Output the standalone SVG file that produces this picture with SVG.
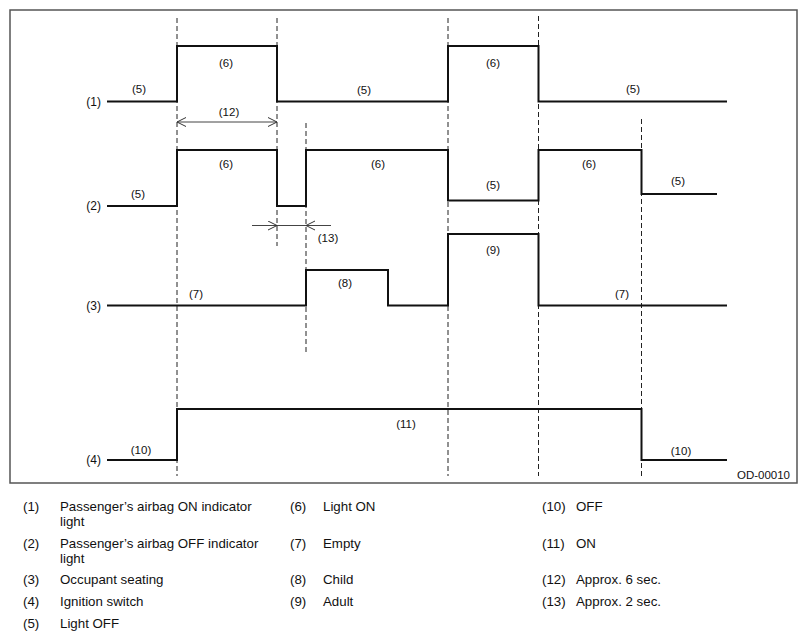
<svg xmlns="http://www.w3.org/2000/svg" width="807" height="639" viewBox="0 0 807 639">
<style>
  .frame{fill:none;stroke:#555;stroke-width:1.5}
  .sig{fill:none;stroke:#111;stroke-width:2;stroke-linejoin:miter}
  .guide{fill:none;stroke:#222;stroke-width:1;stroke-dasharray:5,3}
  .dim{fill:none;stroke:#444;stroke-width:1}
  .lbl{font-family:"Liberation Sans",Arial,Helvetica,sans-serif;font-size:11.5px;fill:#111;text-anchor:middle}
  .row{font-family:"Liberation Sans",Arial,Helvetica,sans-serif;font-size:12px;fill:#111;text-anchor:end}
  .leg{font-family:"Liberation Sans",Arial,Helvetica,sans-serif;font-size:13.3px;fill:#111}
</style>
<defs>
  <marker id="vhead" markerUnits="userSpaceOnUse" markerWidth="12" markerHeight="12" refX="9" refY="5" orient="auto-start-reverse">
    <path d="M0,0.5 L9,5 L0,9.5" fill="none" stroke="#333" stroke-width="1"/>
  </marker>
</defs>
<rect width="807" height="639" fill="#fff"/>
<rect id="frame" class="frame" x="10" y="10" width="787" height="473"/>

<g id="guides">
  <line class="guide" x1="177" y1="18" x2="177" y2="476"/>
  <line class="guide" x1="277" y1="18" x2="277" y2="246"/>
  <line class="guide" x1="306" y1="123" x2="306" y2="355"/>
  <line class="guide" x1="448" y1="18" x2="448" y2="476"/>
  <line class="guide" x1="538.5" y1="16" x2="538.5" y2="476"/>
  <line class="guide" x1="641.5" y1="119" x2="641.5" y2="476"/>
</g>

<g id="signal-1">
  <polyline class="sig" points="107,101.5 177,101.5 177,46 277,46 277,101.5 448,101.5 448,46 538.5,46 538.5,101.5 727,101.5"/>
  <text class="row" x="101" y="105.5">(1)</text>
  <text class="lbl" x="139" y="93">(5)</text>
  <text class="lbl" x="226" y="67">(6)</text>
  <text class="lbl" x="364" y="94">(5)</text>
  <text class="lbl" x="493" y="67">(6)</text>
  <text class="lbl" x="633" y="93">(5)</text>
</g>

<g id="signal-2">
  <polyline class="sig" points="107,206 177,206 177,150 277,150 277,206 306,206 306,150 448,150 448,200.5 538.5,200.5 538.5,150 641.5,150 641.5,194 717,194"/>
  <text class="row" x="101" y="210">(2)</text>
  <text class="lbl" x="138" y="198">(5)</text>
  <text class="lbl" x="226" y="168">(6)</text>
  <text class="lbl" x="378" y="168">(6)</text>
  <text class="lbl" x="493" y="189">(5)</text>
  <text class="lbl" x="589" y="168">(6)</text>
  <text class="lbl" x="678" y="185">(5)</text>
</g>

<g id="signal-3">
  <polyline class="sig" points="107,305.5 306,305.5 306,270 388,270 388,305.5 448,305.5 448,234 538.5,234 538.5,305.5 727,305.5"/>
  <text class="row" x="101" y="309.5">(3)</text>
  <text class="lbl" x="196" y="298">(7)</text>
  <text class="lbl" x="345" y="287">(8)</text>
  <text class="lbl" x="493" y="254">(9)</text>
  <text class="lbl" x="622" y="298">(7)</text>
</g>

<g id="signal-4">
  <polyline class="sig" points="107,460 177,460 177,409 641.5,409 641.5,460 727,460"/>
  <text class="row" x="101" y="464">(4)</text>
  <text class="lbl" x="141" y="454">(10)</text>
  <text class="lbl" x="406" y="428">(11)</text>
  <text class="lbl" x="681" y="455">(10)</text>
</g>

<g id="connectors">
  <line class="dim" x1="177" y1="122" x2="277" y2="122" marker-start="url(#vhead)" marker-end="url(#vhead)"/>
  <line class="dim" x1="252" y1="225.5" x2="277" y2="225.5" marker-end="url(#vhead)"/>
  <line class="dim" x1="277" y1="225.5" x2="306" y2="225.5"/>
  <line class="dim" x1="331" y1="225.5" x2="306" y2="225.5" marker-end="url(#vhead)"/>
  <text class="lbl" x="229" y="116">(12)</text>
  <text class="lbl" x="328" y="242">(13)</text>
</g>

<text id="code" class="lbl" x="790" y="479" style="text-anchor:end">OD-00010</text>

<g id="legend" class="leg">
  <text x="23" y="511">(1)</text>
  <text x="60" y="511">Passenger’s airbag ON indicator</text>
  <text x="60" y="526">light</text>
  <text x="23" y="548">(2)</text>
  <text x="60" y="548">Passenger’s airbag OFF indicator</text>
  <text x="60" y="563">light</text>
  <text x="23" y="584">(3)</text>
  <text x="60" y="584">Occupant seating</text>
  <text x="23" y="606">(4)</text>
  <text x="60" y="606">Ignition switch</text>
  <text x="23" y="628">(5)</text>
  <text x="60" y="628">Light OFF</text>

  <text x="290" y="511">(6)</text>
  <text x="323" y="511">Light ON</text>
  <text x="290" y="548">(7)</text>
  <text x="323" y="548">Empty</text>
  <text x="290" y="584">(8)</text>
  <text x="323" y="584">Child</text>
  <text x="290" y="606">(9)</text>
  <text x="323" y="606">Adult</text>

  <text x="542" y="511">(10)</text>
  <text x="576" y="511">OFF</text>
  <text x="542" y="548">(11)</text>
  <text x="576" y="548">ON</text>
  <text x="542" y="584">(12)</text>
  <text x="576" y="584">Approx. 6 sec.</text>
  <text x="542" y="606">(13)</text>
  <text x="576" y="606">Approx. 2 sec.</text>
</g>
</svg>
